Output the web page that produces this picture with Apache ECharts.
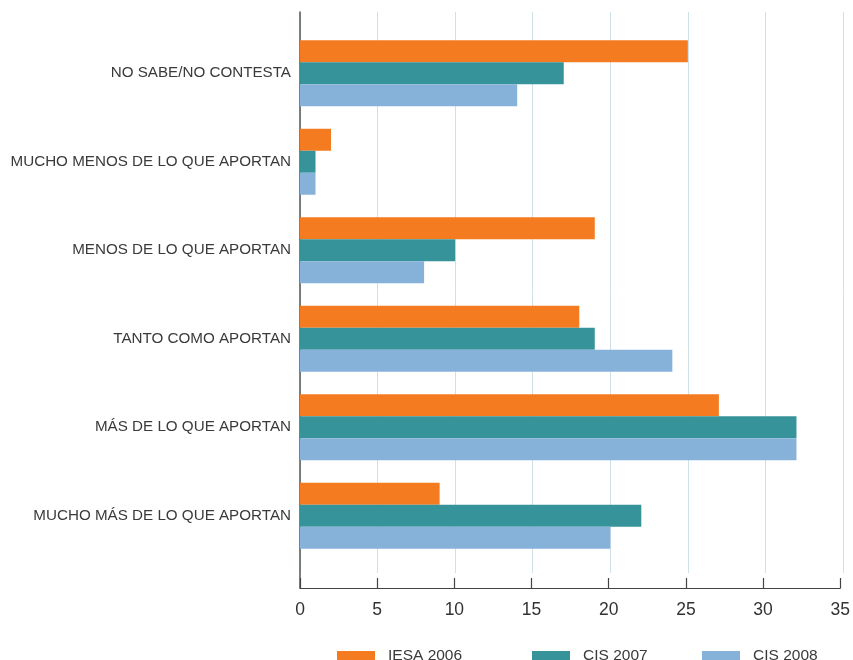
<!DOCTYPE html>
<html>
<head>
<meta charset="utf-8">
<script src="https://cdn.jsdelivr.net/npm/echarts@6/dist/echarts.min.js"></script>
<style>
  html, body { margin: 0; padding: 0; background: #fff; }
  #main { width: 853px; height: 660px; }
</style>
</head>
<body>
<div id="main"></div>
<script>
// categorias de arriba a abajo
var categorias = [
  'NO SABE/NO CONTESTA',
  'MUCHO MENOS DE LO QUE APORTAN',
  'MENOS DE LO QUE APORTAN',
  'TANTO COMO APORTAN',
  'MÁS DE LO QUE APORTAN',
  'MUCHO MÁS DE LO QUE APORTAN'
];
var iesa2006 = [25, 2, 19, 18, 27, 9];
var cis2007 = [17, 1, 10, 19, 32, 22];
var cis2008 = [14, 1, 8, 24, 32, 20];
var series_names = ['IESA 2006', 'CIS 2007', 'CIS 2008'];
var colores = ['#f47b20', '#36939a', '#86b2da'];

var chart = echarts.init(document.getElementById('main'), null, { renderer: 'canvas' });

var fuente = 'Liberation Sans';

var option = {
  backgroundColor: '#fff',
  animation: false,
  color: colores,
  textStyle: { fontFamily: fuente },
  legend: [0, 1, 2].map(function (i) {
    var lefts = [337, 532, 702];
    return {
      data: [series_names[i]],
      left: lefts[i],
      top: 648,
      icon: 'rect',
      itemWidth: 38,
      itemHeight: 10,
      itemGap: 0,
      padding: 0,
      textStyle: { fontSize: 15.5, color: '#3a3a3a', fontFamily: fuente, padding: [0, 0, 0, 8] }
    };
  }),
  grid: [
    // barras
    { left: 300, top: 29, width: 543, height: 531 },
    // lineas de division
    { left: 300, top: 12, width: 543, height: 561 },
    // ejes
    { left: 300, top: 12, width: 543, height: 576 }
  ],
  xAxis: [
    { gridIndex: 0, type: 'value', min: 0, max: 35, interval: 5, show: false },
    {
      gridIndex: 1, type: 'value', min: 0, max: 35, interval: 5,
      axisLine: { show: false }, axisTick: { show: false }, axisLabel: { show: false },
      splitLine: { show: true, lineStyle: { color: '#cfe1e7', width: 1 } }
    },
    {
      gridIndex: 2, type: 'value', min: 0, max: 35, interval: 5,
      axisLine: { show: true, lineStyle: { color: '#444', width: 1.2 } },
      axisTick: { show: true, inside: true, length: 10, lineStyle: { color: '#444', width: 1.2 } },
      axisLabel: { fontSize: 17.5, color: '#333', margin: 13, fontFamily: fuente },
      splitLine: { show: false }
    }
  ],
  yAxis: [
    {
      gridIndex: 0, type: 'category', inverse: true, data: categorias,
      axisLine: { show: false }, axisTick: { show: false },
      axisLabel: { fontSize: 15.2, color: '#3a3a3a', margin: 9, fontFamily: fuente, padding: [4, 0, 0, 0] }
    },
    { gridIndex: 1, type: 'value', show: false },
    {
      gridIndex: 2, type: 'value', min: 0, max: 1,
      axisLine: { show: true, lineStyle: { color: '#555', width: 1.5 } },
      axisTick: { show: false }, axisLabel: { show: false }, splitLine: { show: false }
    }
  ],
  series: [
    { name: series_names[0], type: 'bar', xAxisIndex: 0, yAxisIndex: 0, data: iesa2006, barWidth: 22, barGap: '0%' },
    { name: series_names[1], type: 'bar', xAxisIndex: 0, yAxisIndex: 0, data: cis2007, barWidth: 22, barGap: '0%' },
    { name: series_names[2], type: 'bar', xAxisIndex: 0, yAxisIndex: 0, data: cis2008, barWidth: 22, barGap: '0%' }
  ]
};

chart.setOption(option);
</script>
</body>
</html>
